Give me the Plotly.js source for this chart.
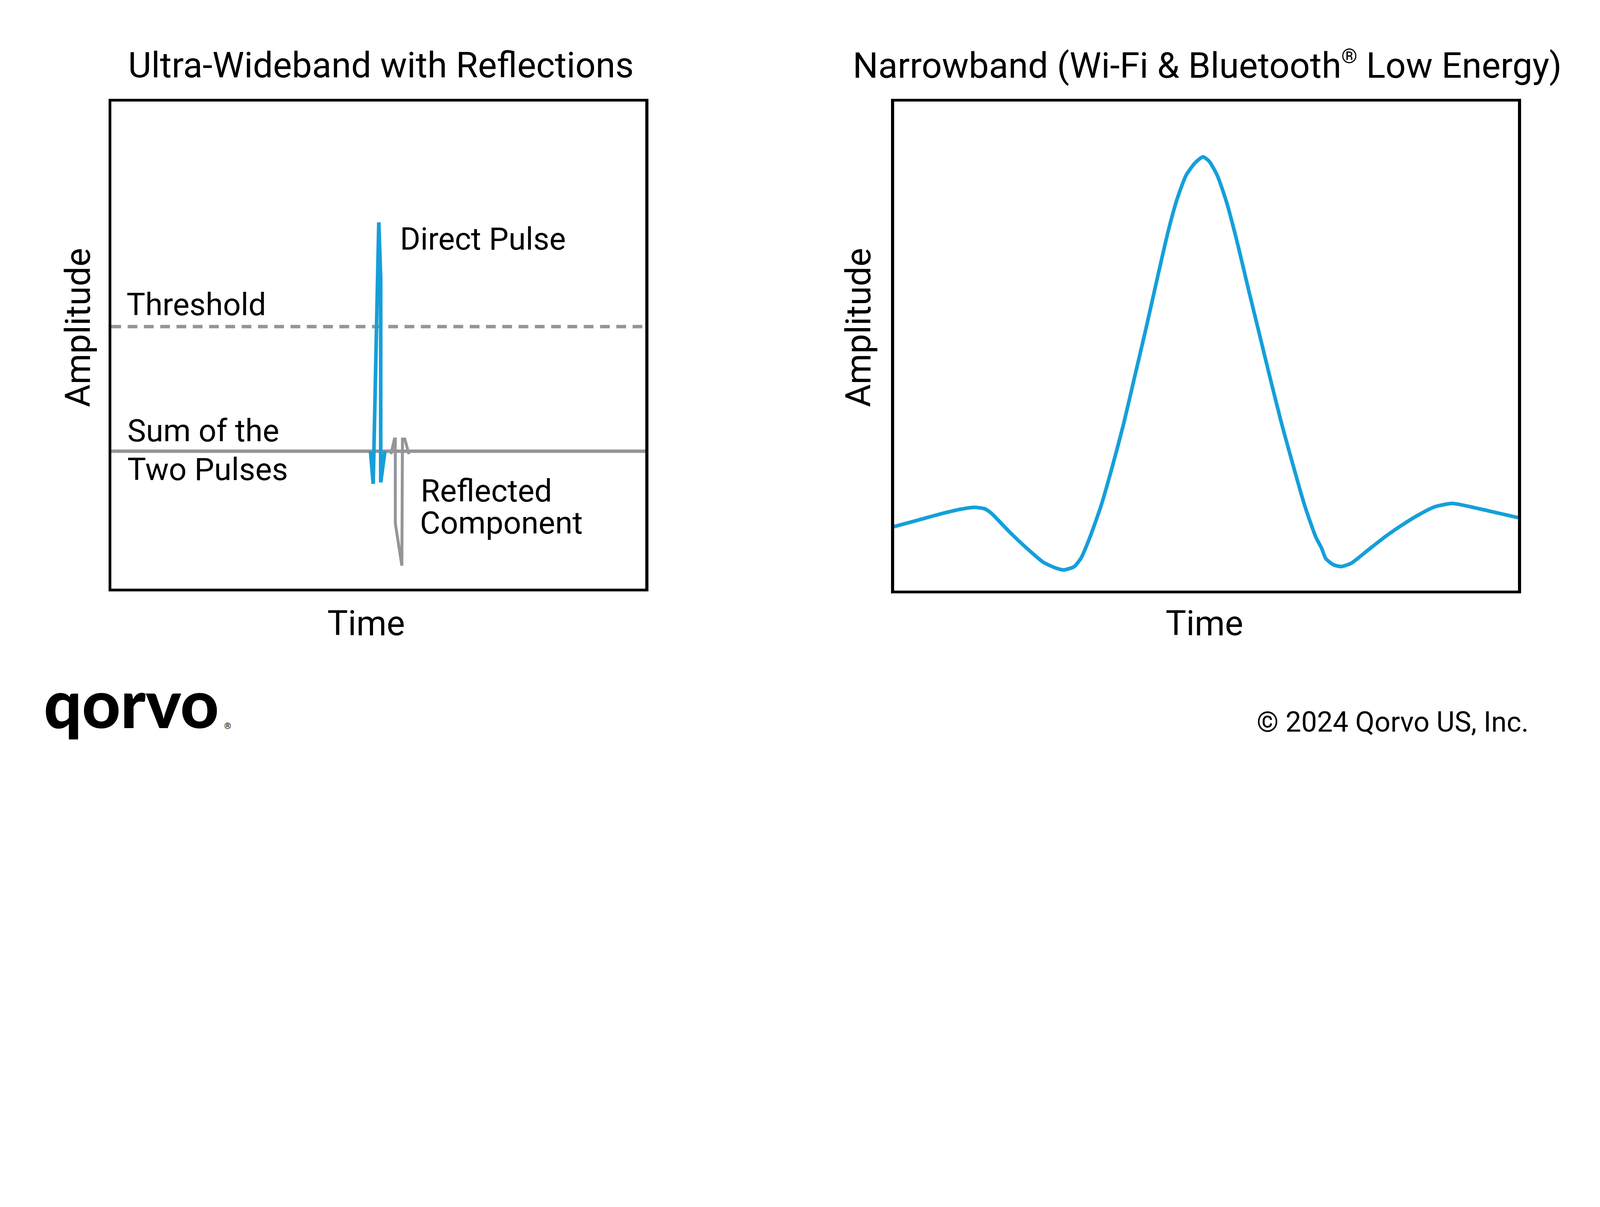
<!DOCTYPE html>
<html>
<head>
<meta charset="utf-8">
<script src="https://cdn.plot.ly/plotly-3.0.1.min.js"></script>
<style>html,body{margin:0;padding:0;background:#fff;overflow:hidden;}</style>
</head>
<body>
<div id="chart"></div>
<script>
// ---------- DATA ----------
// Left panel: Ultra-Wideband with Reflections (arbitrary time / amplitude units 0-100)
const uwbBaselineX = [0, 100];
const uwbBaselineY = [28.2, 28.2];
const thresholdX = [0, 100];
const thresholdY = [53.8, 53.8];
const directPulseX = [48.52, 49.02, 50.07, 50.43, 50.43, 51.21];
const directPulseY = [28.2, 21.5, 75.2, 63.5, 21.8, 28.2];
const reflectedX = [52.34, 53.0, 53.16, 53.16, 54.39, 54.5, 54.94, 55.71];
const reflectedY = [27.6, 30.7, 30.7, 13.4, 4.7, 30.7, 30.7, 27.6];

// Right panel: Narrowband (Wi-Fi & Bluetooth Low Energy)
const nbTime = [0, 4.16, 7.74, 10.6, 12.9, 14.55, 15.6, 18.5, 21.4, 23.9, 25.7, 27.2, 28.9, 30.0, 31.4,
  33.2, 35.0, 36.8, 38.6, 40.4, 42.2, 43.9, 45.4, 46.8, 48.2, 49.5, 50.5, 51.8, 53.3, 55.1, 56.8,
  58.6, 60.4, 62.2, 64.0, 65.8, 67.6, 68.5, 69.2, 70.5, 71.7, 73.3, 75.8, 78.7, 81.2, 83.7, 86.6,
  89.5, 93.8, 100];
const nbAmplitude = [13.06, 14.5, 15.75, 16.6, 17.0, 16.7, 15.8, 12.0, 8.5, 5.8, 4.7, 4.2, 4.9, 6.7, 10.9,
  17.4, 25.4, 34.1, 43.9, 53.7, 63.9, 73.3, 80.2, 84.9, 87.4, 88.7, 87.8, 84.9, 79.4, 70.7, 61.6,
  52.2, 42.8, 33.7, 25.4, 17.4, 10.9, 8.7, 6.5, 5.2, 4.9, 5.6, 8.1, 11.0, 13.2, 15.2, 17.1,
  17.8, 16.7, 14.9];

// Text
const titleLeft = 'Ultra-Wideband with Reflections';
const titleRightA = 'Narrowband (Wi-Fi &amp; Bluetooth';
const titleRightB = ' Low Energy)';
const xTitle = 'Time';
const yTitle = 'Amplitude';
const labelDirect = 'Direct Pulse';
const labelThreshold = 'Threshold';
const labelSum1 = 'Sum of the';
const labelSum2 = 'Two Pulses';
const labelRefl1 = 'Reflected';
const labelRefl2 = 'Component';
const logoText = 'qorvo';
const copyrightText = '© 2024 Qorvo US, Inc.';

// ---------- STYLE / LAYOUT ----------
const W = 6581, H = 3090;
const vw = window.innerWidth || document.documentElement.clientWidth || W;
const vh = window.innerHeight || document.documentElement.clientHeight || H;
const s = Math.min(vw / W, vh / H);
const FONT = 'Roboto, "Noto Sans", sans-serif';
const BLUE = '#159fda';
const GRAY = '#939598';
const fx = p => p / W;
const fy = p => 1 - p / H;
const k = v => v * s;

const traces = [
  {x: thresholdX, y: thresholdY, xaxis: 'x', yaxis: 'y', mode: 'lines',
   line: {color: GRAY, width: k(14), dash: k(40) + 'px,' + k(27) + 'px'}},
  {x: uwbBaselineX, y: uwbBaselineY, xaxis: 'x', yaxis: 'y', mode: 'lines',
   line: {color: GRAY, width: k(14)}},
  {x: reflectedX, y: reflectedY, xaxis: 'x', yaxis: 'y', mode: 'lines',
   line: {color: GRAY, width: k(12)}},
  {x: directPulseX, y: directPulseY, xaxis: 'x', yaxis: 'y', mode: 'lines',
   line: {color: BLUE, width: k(15)}},
  {x: nbTime, y: nbAmplitude, xaxis: 'x2', yaxis: 'y2', mode: 'lines',
   line: {color: BLUE, width: k(15), shape: 'spline', smoothing: 0.6}}
];

const axBase = {showticklabels: false, ticks: '', showgrid: false, zeroline: false,
  showline: true, mirror: true, linecolor: '#000', linewidth: k(12), fixedrange: true, range: [0, 100]};

function ann(text, xp, yp, size, xanchor, extra) {
  return Object.assign({text: text, x: fx(xp), y: fy(yp), xref: 'paper', yref: 'paper',
    xanchor: xanchor, yanchor: 'middle', showarrow: false, borderpad: 0,
    font: {family: FONT, size: k(size), color: '#000'}}, extra || {});
}

const titleRight = titleRightA + '<sup><span style="font-size:' + k(84).toFixed(2) + 'px">®</span></sup>' + titleRightB;

const annotations = [
  ann(titleLeft, 1567, 268, 147, 'center'),
  ann(titleRight, 4966, 268, 147, 'center'),
  ann(labelDirect, 1643, 982, 128, 'left'),
  ann(labelThreshold, 519, 1254, 129, 'left'),
  ann(labelSum1, 522, 1772, 129, 'left'),
  ann(labelSum2, 522, 1931, 129, 'left'),
  ann(labelRefl1, 1729, 2020, 129, 'left'),
  ann(labelRefl2, 1726, 2152, 129, 'left'),
  ann(xTitle, 1507, 2564, 142, 'center'),
  ann(xTitle, 4954, 2564, 142, 'center'),
  ann(yTitle, 320, 1347, 144, 'center', {textangle: -90}),
  ann(yTitle, 3530, 1347, 144, 'center', {textangle: -90}),
  ann(logoText, 178, 2889, 275, 'left', {font: {family: 'Lato, "Open Sans", sans-serif', size: k(275), color: '#000', weight: 900}}),
  ann('®', 920, 2986, 36, 'left'),
  ann(copyrightText, 6288, 2971, 115, 'right')
];

const layout = {
  width: Math.floor(W * s), height: Math.floor(H * s), autosize: false,
  margin: {l: 0, r: 0, t: 0, b: 0, pad: 0},
  paper_bgcolor: '#fff', plot_bgcolor: '#fff',
  showlegend: false, hovermode: false,
  xaxis: Object.assign({}, axBase, {domain: [fx(458), fx(2655)], anchor: 'y'}),
  yaxis: Object.assign({}, axBase, {domain: [fy(2421), fy(418)], anchor: 'x'}),
  xaxis2: Object.assign({}, axBase, {domain: [fx(3677), fx(6244)], anchor: 'y2'}),
  yaxis2: Object.assign({}, axBase, {domain: [fy(2429), fy(418)], anchor: 'x2'}),
  annotations: annotations
};

Plotly.newPlot('chart', traces, layout, {displayModeBar: false, staticPlot: true});
</script>
</body>
</html>
